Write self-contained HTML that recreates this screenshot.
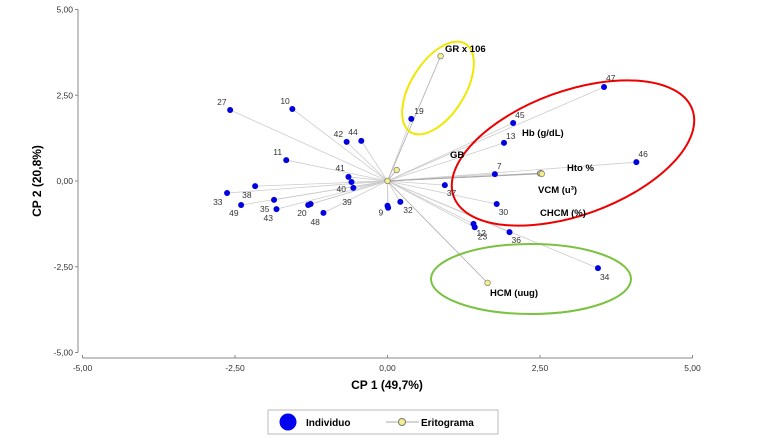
<!DOCTYPE html>
<html><head><meta charset="utf-8"><style>
body{margin:0;background:#fff;}
svg{display:block;font-family:"Liberation Sans",Arial,sans-serif;}
</style></head><body>
<svg id="chart" width="776" height="444" viewBox="0 0 776 444"></svg>
<script>
const indLabels=["27","10","42","44","11","41","40","39","33","38","49","35","43","20","20b","48","9","9b","32","19","47","45","13","7","46","37","30","12","23","36","34"];
const indX=[-2.58,-1.56,-0.67,-0.43,-1.66,-0.64,-0.59,-0.56,-2.63,-2.17,-2.40,-1.86,-1.82,-1.30,-1.26,-1.05,0.0,0.01,0.21,0.39,3.55,2.06,1.91,1.76,4.08,0.94,1.79,1.41,1.43,2.0,3.45];
const indY=[2.07,2.10,1.14,1.17,0.61,0.12,-0.03,-0.20,-0.35,-0.15,-0.70,-0.55,-0.82,-0.70,-0.67,-0.93,-0.72,-0.78,-0.61,1.81,2.74,1.69,1.11,0.20,0.55,-0.12,-0.67,-1.25,-1.35,-1.49,-2.54];
const eriLabels=["GR x 106","GB","Hb (g/dL)","Hto %","VCM (u³)","CHCM (%)","HCM (uug)"];
const eriX=[0.87,0.15,2.50,2.52,2.51,2.53,1.64];
const eriY=[3.64,0.32,0.22,0.23,0.22,0.21,-2.97];
const xTicks=[-5,-2.5,0,2.5,5];
const yTicks=[5,2.5,0,-2.5,-5];
// label offsets (pixels, layout only) relative to each point
const labOff=[[-13,-5],[-12,-5],[-13,-5],[-13,-6],[-13,-5],[-13,-6],[-15,10],[-11,17],[-14,12],[-13,12],[-12,11],[-14,12],[-13,12],[-11,11],[0,0],[-13,12],[-9,10],[0,0],[3,11],[3,-5],[2,-6],[2,-5],[2,-4],[2,-5],[2,-5],[2,11],[2,11],[3,12],[3,12],[2,11],[2,12]];

const NS="http://www.w3.org/2000/svg";
const svg=document.getElementById('chart');
const X=v=>387.5+v*61;
const Y=v=>181-v*34.3;
function mk(t,a,p){const e=document.createElementNS(NS,t);for(const k in a)e.setAttribute(k,a[k]);(p||svg).appendChild(e);return e;}
const fmt=v=>v.toFixed(2).replace('.',',');

let ya=mk('line',{x1:78,y1:Y(5),x2:78,y2:Y(-5),stroke:'#888'});


let xa=mk('line',{x1:X(-5),y1:358,x2:X(5),y2:358,stroke:'#888'});


yTicks.forEach(v=>{
  mk('line',{x1:75,y1:Y(v),x2:78,y2:Y(v),stroke:'#888'});
  let t=mk('text',{x:73,y:Y(v)+3,'font-size':8.5,'text-anchor':'end',fill:'#333'});t.textContent=fmt(v);
  
  
});
xTicks.forEach(v=>{
  mk('line',{x1:X(v),y1:355,x2:X(v),y2:358,stroke:'#888'});
  let t=mk('text',{x:X(v),y:371,'font-size':8.5,'text-anchor':'middle',fill:'#333'});t.textContent=fmt(v);
  
  
});
let xt=mk('text',{x:387,y:389,'font-size':12,'font-weight':'bold','text-anchor':'middle'});xt.textContent='CP 1 (49,7%)';


let yt=mk('text',{x:0,y:0,'font-size':12,'font-weight':'bold','text-anchor':'middle',transform:'translate(41,181) rotate(-90)'});yt.textContent='CP 2 (20,8%)';



indX.forEach((v,i)=>mk('line',{x1:X(0),y1:Y(0),x2:X(v),y2:Y(indY[i]),stroke:'#ccc','stroke-width':0.8}));
eriX.forEach((v,i)=>mk('line',{x1:X(0),y1:Y(0),x2:X(v),y2:Y(eriY[i]),stroke:'#aaa','stroke-width':0.8}));

let e1=mk('ellipse',{cx:438,cy:88,rx:52,ry:27,transform:'rotate(-58 438 88)',fill:'none',stroke:'#f0e800','stroke-width':2});


let e2=mk('ellipse',{cx:573,cy:153,rx:127,ry:62,transform:'rotate(-20 573 153)',fill:'none',stroke:'#e00','stroke-width':2});


let e3=mk('ellipse',{cx:531,cy:279,rx:100,ry:35,fill:'none',stroke:'#7cc242','stroke-width':2});



indX.forEach((v,i)=>{
  let c=mk('circle',{cx:X(v),cy:Y(indY[i]),r:3,fill:'#0000e0'});
  
  
  const lb=indLabels[i];
  if(lb.endsWith('b'))return;
  const o=labOff[i]||[3,-5];
  let t=mk('text',{x:X(v)+o[0],y:Y(indY[i])+o[1],'font-size':8.5,fill:'#333'});
  t.textContent=lb;
  
  
});
mk('circle',{cx:X(0),cy:Y(0),r:2.8,fill:'#f5f08a',stroke:'#777','stroke-width':0.7});
eriX.forEach((v,i)=>{
  let c=mk('circle',{cx:X(v),cy:Y(eriY[i]),r:2.8,fill:'#f5f08a',stroke:'#777','stroke-width':0.7});
  
  
});
const eLabPos=[[445,52],[450,158],[522,136],[567,171],[538,193],[540,216],[490,296]];
eriLabels.forEach((l,i)=>{
  let t=mk('text',{x:eLabPos[i][0],y:eLabPos[i][1],'font-size':9.5,'font-weight':'bold'});t.textContent=l;
  
  
});

let lg=mk('g',{});


mk('rect',{x:268,y:410,width:230,height:24,fill:'#fff',stroke:'#bbb'},lg);
let l1=mk('circle',{cx:288,cy:422,r:8.5,fill:'#0000f0'},lg);


let t1=mk('text',{x:306,y:426,'font-size':10,'font-weight':'bold'},lg);t1.textContent='Individuo';
mk('line',{x1:386,y1:422,x2:419,y2:422,stroke:'#aaa'},lg);
let l2=mk('circle',{cx:402,cy:422,r:3.5,fill:'#f5f08a',stroke:'#777'},lg);


let t2=mk('text',{x:421,y:426,'font-size':10,'font-weight':'bold'},lg);t2.textContent='Eritograma';
</script>
</body></html>
